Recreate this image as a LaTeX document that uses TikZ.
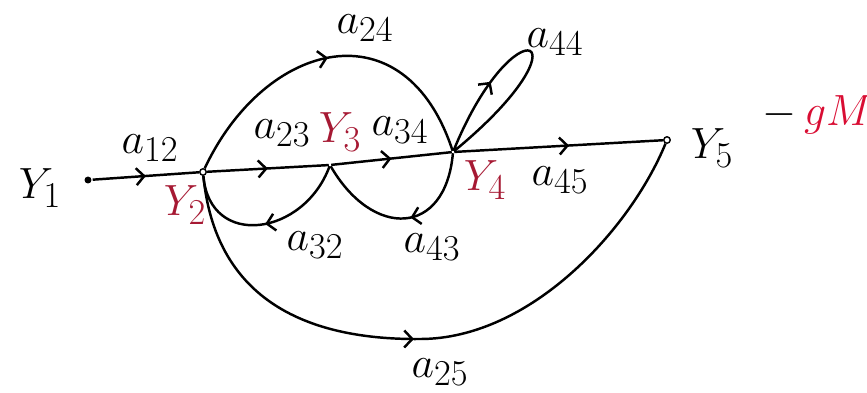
\documentclass[tikz,border=0pt]{standalone}
\usepackage{tikz}
\usetikzlibrary{arrows.meta, decorations.markings}
\definecolor{NodeRed}{rgb}{0.65, 0.1, 0.2}
\definecolor{GainRed}{rgb}{0.85, 0.05, 0.2}

\begin{document}
\begin{tikzpicture}[line width=1.4pt,
    pt/.style={circle, draw, inner sep=1.3pt, line width=0.8pt},
    dotpt/.style={circle, fill, inner sep=1.4pt},
    nopt/.style={inner sep=0pt, minimum size=0pt},
    midarrow/.style={postaction={decorate, decoration={markings,
        mark=at position #1 with {\arrow{Straight Barb[length=1.6mm, width=3.4mm]}}}}},
    lbl/.style={font=\Huge}]
                                \useasboundingbox (0,0) rectangle (17.34,-7.84);

                                % nodes of the graph
                                \node[dotpt] (y1) at (1.76,-3.6) {};
                                \node[pt] (y2) at (4.06,-3.44) {};
                                \node[nopt] (y3) at (6.6,-3.3) {};
                                \node[nopt] (y4) at (9.06,-3.04) {};
                                \node[pt] (y5) at (13.34,-2.8) {};

                                % forward branches
                                \draw[midarrow=0.5] (y1) -- (y2);
                                \draw[midarrow=0.5] (y2) -- (y3);
                                \draw[midarrow=0.5] (y3) -- (y4);
                                \draw[midarrow=0.55] (y4) -- (y5);
                                \draw[midarrow=0.5] (y2) .. controls (5.3,-0.8) and (8.1,-0.1) .. (y4);
                                \draw[midarrow=0.47] (y2) .. controls (4.3,-5.9) and (6.0,-6.8) .. (8.4,-6.78)
                                                          .. controls (10.6,-6.78) and (12.6,-4.6) .. (y5);

                                % feedback branches
                                \draw[midarrow=0.5] (y3) to[out=-110, in=-85, looseness=1.5] (y2);
                                \draw[midarrow=0.45] (y4) to[out=-95, in=-60, looseness=1.75] (y3);
                                \draw[midarrow=0.3] (y4) .. controls (10.3,0.0) and (11.9,-0.7) .. (y4);

                                % labels
                                \node[lbl] (ly1) at (0.8,-3.76) {$Y_1$};
                                \node[lbl, text=NodeRed] (ly2) at (3.7,-4.1) {$Y_2$};
                                \node[lbl, text=NodeRed] (ly3) at (6.8,-2.64) {$Y_3$};
                                \node[lbl, text=NodeRed] (ly4) at (9.7,-3.6) {$Y_4$};
                                \node[lbl] (ly5) at (14.24,-2.96) {$Y_5$};
                                \node[lbl] (gm) at (16.35,-2.3) {$-$\,{\color{GainRed}$gM$}};

                                \node[lbl] (a12) at (3.0,-2.96) {$a_{12}$};
                                \node[lbl] (a23) at (5.64,-2.66) {$a_{23}$};
                                \node[lbl] (a34) at (8.0,-2.6) {$a_{34}$};
                                \node[lbl] (a24) at (7.3,-0.56) {$a_{24}$};
                                \node[lbl] (a44) at (11.1,-0.84) {$a_{44}$};
                                \node[lbl] (a45) at (11.2,-3.6) {$a_{45}$};
                                \node[lbl] (a32) at (6.3,-4.9) {$a_{32}$};
                                \node[lbl] (a43) at (8.64,-4.94) {$a_{43}$};
                                \node[lbl] (a25) at (8.8,-7.44) {$a_{25}$};
                            \end{tikzpicture}
\end{document}
